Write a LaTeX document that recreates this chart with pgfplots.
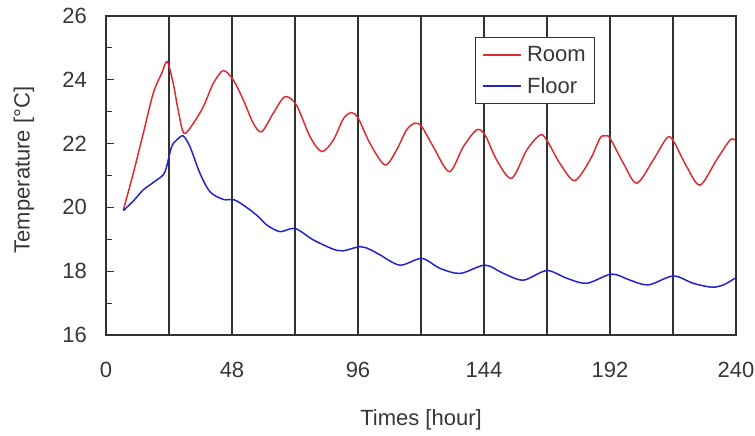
\documentclass[border=0pt]{standalone}
\usepackage{pgfplots}
\pgfplotsset{compat=1.18}
\usepackage{fontspec}
\setmainfont{Liberation Sans}

\definecolor{roomred}{RGB}{222,45,50}
\definecolor{floorblue}{RGB}{35,35,205}
\definecolor{framegray}{RGB}{50,50,50}
\definecolor{textgray}{RGB}{55,55,55}

\begin{document}
\begin{tikzpicture}
\path[use as bounding box] (-106bp,-101bp) rectangle (649bp,335bp);
\begin{axis}[
  at={(0,0)}, anchor=south west,
  scale only axis, width=630bp, height=319bp,
  xmin=0, xmax=240, ymin=16, ymax=26,
  xtick={0,48,...,240}, minor xtick={24,72,...,216},
  ytick={16,18,...,26}, minor ytick={17,19,...,25},
  xmajorgrids, xminorgrids,
  major grid style={framegray, line width=1.3bp},
  minor grid style={framegray, line width=1.3bp},
  axis line style={framegray, line width=1.3bp},
  ytick pos=left, xtick pos=bottom,
  tick align=inside,
  major tick length=8bp, minor tick length=6bp,
  tick style={framegray, line width=1bp},
  font=\fontsize{22bp}{26bp}\selectfont,
  /pgf/number format/assume math mode=true,
  every tick label/.append style={textgray},
  xticklabel style={anchor=center, yshift=-35bp, inner sep=0pt},
  yticklabel style={anchor=east, xshift=-19bp, inner sep=0pt},
  xlabel={Times [hour]},
  ylabel={Temperature [°C]},
  xlabel style={at={(axis description cs:0.5,-0.2665)}, anchor=center, textgray},
  ylabel style={at={(axis description cs:-0.1302,0.517)}, anchor=center, textgray},
  legend style={at={(axis description cs:0.5857,0.934)}, anchor=north west,
    draw=framegray, fill=white, very thick,
    inner xsep=7bp, inner ysep=7bp, row sep=10bp, column sep=3bp},
  legend cell align=left,
  legend image code/.code={\draw[#1, line width=1.5bp] (0bp,0bp) -- (38bp,0bp);},
]
% room air temperature
\addplot[roomred, line width=1.5bp, smooth, tension=0.5] coordinates {
(6.6,19.92) (10.4,21.07) (14.2,22.32) (18.0,23.58) (21.2,24.2) (23.3,24.57)
(25.6,23.89) (27.5,23.05) (29.7,22.32) (33.3,22.64) (37.1,23.16) (40.9,23.89)
(44.7,24.29) (48.5,23.99) (52.3,23.37) (56.1,22.64) (59.3,22.37) (63.7,22.95)
(68.2,23.47) (72.6,23.20) (77.7,22.22) (82.2,21.75) (86.6,22.11) (90.5,22.79)
(93.6,22.97) (96.1,22.79) (100.6,22.0) (106.3,21.33) (110.7,21.8) (114.5,22.43)
(117.7,22.64) (120.3,22.53) (124.7,21.9) (130.8,21.12) (136.1,21.9) (141.2,22.43)
(144.4,22.27) (148.8,21.49) (154.5,20.91) (160.3,21.8) (165.3,22.27) (167.9,22.11)
(172.9,21.38) (178.5,20.84) (184.4,21.49) (188.2,22.17) (190.1,22.24) (192.0,22.17)
(197.1,21.38) (202.2,20.76) (208.5,21.49) (213.6,22.17) (216.1,22.09) (221.2,21.28)
(226.3,20.70) (232.6,21.49) (237.7,22.11) (239.6,22.11)
};
\addlegendentry{\textcolor{textgray}{Room}}
% floor surface temperature
\addplot[floorblue, line width=1.5bp, smooth, tension=0.5] coordinates {
(6.6,19.9) (10.4,20.2) (14.2,20.55) (18.0,20.78) (21.8,21.02) (23.1,21.28)
(25.0,21.9) (27.0,22.12) (29.4,22.24) (32.0,21.9) (35.8,21.07) (39.6,20.49)
(44.7,20.25) (49.1,20.23) (54.9,19.92) (58.7,19.66) (61.2,19.45)
(66.3,19.24) (72,19.34) (79,18.98) (86.6,18.69) (90.4,18.64) (96.8,18.77)
(100.6,18.68) (104.4,18.51) (112,18.19) (120.3,18.40) (127.2,18.09) (134.9,17.93)
(144.4,18.19) (151.4,17.93) (159,17.72) (167.9,18.02) (175.5,17.78) (183.1,17.62)
(192.6,17.91) (199.6,17.72) (206.6,17.57) (216.1,17.85) (223.7,17.62) (230.7,17.50)
(235.2,17.57) (239.6,17.78)
};
\addlegendentry{\textcolor{textgray}{Floor}}
\end{axis}
\end{tikzpicture}
\end{document}
